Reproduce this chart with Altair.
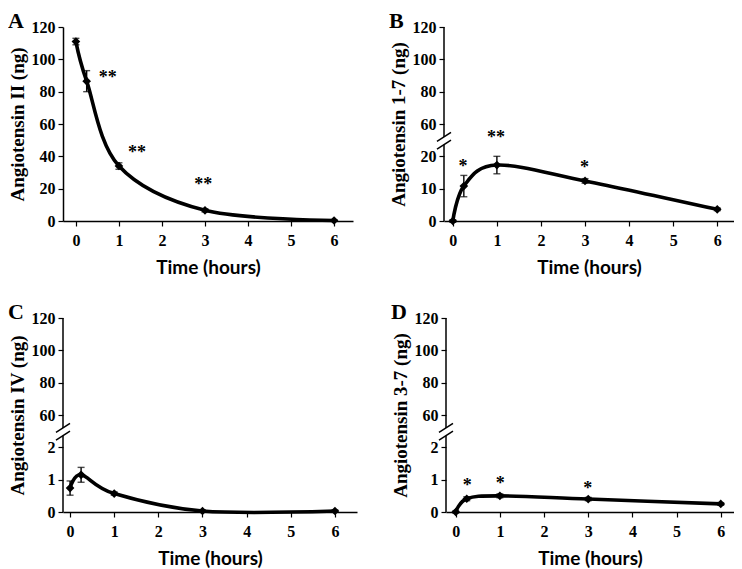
import altair as alt
import pandas as pd

# ---------------- data ----------------
TIME = [0, 0.25, 1, 3, 6]

ANG_II = [111, 86.5, 34, 6.6, 0.3]
ANG_II_ERR = [2, 6.5, 2, 1, 0.5]
ANG_II_STAR_T = [0.74, 1.42, 2.96]
ANG_II_STAR_V = [91, 44.5, 24.7]
ANG_II_STAR_TXT = ["**", "**", "**"]

ANG_17 = [0, 10.8, 17.3, 12.4, 3.6]
ANG_17_ERR = [0.4, 3.3, 2.7, 0.7, 0.4]
ANG_17_STAR_T = [0.23, 0.98, 2.99]
ANG_17_STAR_V = [18.0, 26.9, 17.7]
ANG_17_STAR_TXT = ["*", "**", "*"]

ANG_IV = [0.74, 1.15, 0.57, 0.03, 0.03]
ANG_IV_ERR = [0.22, 0.23, 0.05, 0.03, 0.03]

ANG_37 = [0, 0.41, 0.5, 0.4, 0.25]
ANG_37_ERR = [0.03, 0.06, 0.06, 0.05, 0.04]
ANG_37_STAR_T = [0.26, 1.01, 2.99]
ANG_37_STAR_V = [0.93, 1.0, 0.85]
ANG_37_STAR_TXT = ["*", "*", "*"]

X_TICKS = [0, 1, 2, 3, 4, 5, 6]
A_Y_TICKS = [0, 20, 40, 60, 80, 100, 120]
B_Y_LABELS = ["0", "10", "20", "60", "80", "100", "120"]
CD_Y_LABELS = ["0", "1", "2", "60", "80", "100", "120"]

SERIF = "Liberation Serif"
SANS = "Lato"
EXTENT = 55


def panel(letter, ytitle, vals, errs, star_t, star_v, star_txt, xdom, width,
          step=None, ylabels=None):
    df = pd.DataFrame({"t": TIME, "v": vals, "e": errs})
    sdf = pd.DataFrame({"t": star_t, "v": star_v, "txt": star_txt})
    ldf = pd.DataFrame({"txt": [letter]})

    xaxis = alt.Axis(values=X_TICKS, title="Time (hours)", grid=False,
                     labelFont=SERIF, labelFontWeight="bold", labelFontSize=16,
                     labelColor="black", labelPadding=6, tickSize=5,
                     tickColor="black", domainColor="black", domainWidth=1.5,
                     tickWidth=1.2,
                     titleFont=SANS, titleFontSize=19, titleFontWeight="bold",
                     titleColor="black", titlePadding=10)
    common_y = dict(grid=False, title=ytitle,
                    labelFont=SERIF, labelFontWeight="bold", labelFontSize=16,
                    labelColor="black", labelPadding=3, tickSize=5,
                    tickColor="black", tickWidth=1.2,
                    titleFont=SERIF, titleFontSize=19, titleFontWeight="bold",
                    titleColor="black", titlePadding=4)
    if step is None:
        ydom = [0, 120]
        yaxis = alt.Axis(values=A_Y_TICKS, domainColor="black", domainWidth=1.5,
                         **common_y)
        conv = lambda s: f"({s})"
    else:
        ydom = [0, 6]
        lab = "[" + ",".join(f"'{l}'" for l in ylabels) + "][datum.value]"
        yaxis = alt.Axis(values=list(range(7)), labelExpr=lab, domain=False,
                         **common_y)
        conv = lambda s: f"(({s})/{step} < 3 ? ({s})/{step} : 3 + (({s}) - 60)/20)"

    xs = alt.Scale(domain=xdom, nice=False, zero=False)
    ys = alt.Scale(domain=ydom, nice=False, zero=False)
    X = alt.X("t:Q", scale=xs, axis=xaxis)

    def Y(field):
        return alt.Y(f"{field}:Q", scale=ys, axis=yaxis)

    base = (alt.Chart(df)
            .transform_calculate(lo="datum.v - datum.e", hi="datum.v + datum.e")
            .transform_calculate(y=conv("datum.v"), ylo=conv("datum.lo"),
                                 yhi=conv("datum.hi")))

    line = base.mark_line(color="black", strokeWidth=3.6,
                          interpolate="cardinal").encode(x=X, y=Y("y"))
    bars = base.mark_rule(color="black", strokeWidth=1.4).encode(
        x=X, y=Y("ylo"), y2="yhi:Q")
    caps_hi = base.mark_tick(color="black", orient="horizontal", size=7,
                             thickness=1.4).encode(x=X, y=Y("yhi"))
    caps_lo = base.mark_tick(color="black", orient="horizontal", size=7,
                             thickness=1.4).encode(x=X, y=Y("ylo"))
    pts = base.mark_point(shape="diamond", filled=True, size=75, color="black",
                          opacity=1).encode(x=X, y=Y("y"))
    stars = (alt.Chart(sdf).transform_calculate(y=conv("datum.v"))
             .mark_text(font=SERIF, fontWeight="bold", fontSize=18, color="black",
                        baseline="middle", dy=4)
             .encode(x=X, y=Y("y"), text="txt:N"))
    letter_mark = (alt.Chart(ldf)
                   .mark_text(font=SERIF, fontWeight="bold", fontSize=22,
                              color="black", align="left", baseline="top")
                   .encode(x=alt.value(-EXTENT), y=alt.value(-16), text="txt:N"))

    layers = [line, bars, caps_hi, caps_lo, pts, stars, letter_mark]

    if step is not None:
        gap_lo, gap_hi = 2.36, 2.6
        adf = pd.DataFrame({"a": [0, gap_hi], "b": [gap_lo, 6]})
        axline = alt.Chart(adf).mark_rule(color="black", strokeWidth=1.5).encode(
            x=alt.value(0), y=Y("a"), y2="b:Q")
        bdf = pd.DataFrame({"c": [gap_lo, gap_hi]})
        slash = (alt.Chart(bdf)
                 .transform_calculate(s0="datum.c - 0.14", s1="datum.c + 0.14")
                 .mark_rule(color="black", strokeWidth=1.5)
                 .encode(x=alt.value(-7), x2=alt.value(7), y=Y("s0"), y2="s1:Q"))
        layers += [axline, slash]

    return alt.layer(*layers).properties(width=width, height=194)


A = panel("A", "Angiotensin II (ng)", ANG_II, ANG_II_ERR, ANG_II_STAR_T,
          ANG_II_STAR_V, ANG_II_STAR_TXT, [-0.3, 6.44], 290)
B = panel("B", "Angiotensin 1-7 (ng)", ANG_17, ANG_17_ERR, ANG_17_STAR_T,
          ANG_17_STAR_V, ANG_17_STAR_TXT, [-0.2, 6.38], 290, step=10,
          ylabels=B_Y_LABELS)
C = panel("C", "Angiotensin IV (ng)", ANG_IV, ANG_IV_ERR, [], [], [],
          [-0.16, 6.5], 294, step=1, ylabels=CD_Y_LABELS)
D = panel("D", "Angiotensin 3-7 (ng)", ANG_37, ANG_37_ERR, ANG_37_STAR_T,
          ANG_37_STAR_V, ANG_37_STAR_TXT, [-0.22, 6.3], 288, step=1,
          ylabels=CD_Y_LABELS)

chart = (alt.vconcat(alt.hconcat(A, B, spacing=36),
                     alt.hconcat(C, D, spacing=34), spacing=24)
         .properties(padding={"top": 2, "left": 0, "right": 0, "bottom": 0},
                     background="white")
         .configure_view(stroke=None))

chart.save("out.html", embed_options={"renderer": "svg", "actions": False})
